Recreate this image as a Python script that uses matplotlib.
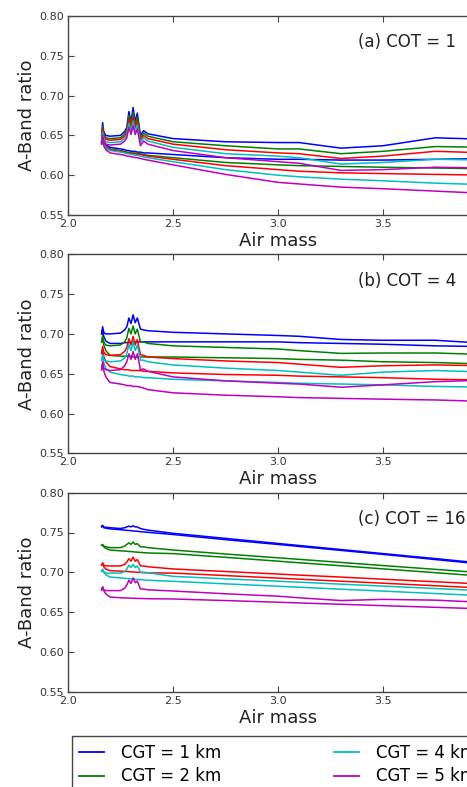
import matplotlib
matplotlib.use('Agg')
import matplotlib.pyplot as plt
from matplotlib.lines import Line2D

# Air mass sample points (shared by every curve)
airmass = [2.16, 2.165, 2.17, 2.18, 2.20, 2.25, 2.27, 2.28, 2.29, 2.30, 2.31, 2.32,
           2.33, 2.345, 2.36, 2.38, 2.5, 2.75, 3.0, 3.1, 3.3, 3.5, 3.75, 4.0]

cgt_labels = ['CGT = 1 km', 'CGT = 2 km', 'CGT = 3 km', 'CGT = 4 km', 'CGT = 5 km']
cgt_colors = ['b', 'g', 'r', 'c', 'm']
panel_titles = ['(a) COT = 1', '(b) COT = 4', '(c) COT = 16']

# (a) COT = 1 -- curves with the spike feature, then the smooth ones (CGT 1..5)
cot1_spiky = [
    [0.650, 0.666, 0.655, 0.650, 0.649, 0.650, 0.655, 0.660, 0.680, 0.667, 0.685, 0.667, 0.678, 0.650, 0.656, 0.652, 0.646, 0.642, 0.641, 0.641, 0.634, 0.637, 0.647, 0.645],
    [0.648, 0.662, 0.652, 0.647, 0.646, 0.647, 0.652, 0.657, 0.675, 0.663, 0.679, 0.663, 0.673, 0.647, 0.653, 0.649, 0.642, 0.637, 0.633, 0.633, 0.627, 0.630, 0.636, 0.635],
    [0.646, 0.658, 0.649, 0.645, 0.644, 0.645, 0.649, 0.654, 0.670, 0.659, 0.674, 0.659, 0.668, 0.644, 0.650, 0.646, 0.639, 0.632, 0.628, 0.627, 0.621, 0.624, 0.630, 0.628],
    [0.644, 0.654, 0.646, 0.642, 0.641, 0.642, 0.646, 0.651, 0.665, 0.655, 0.668, 0.655, 0.663, 0.641, 0.647, 0.643, 0.635, 0.627, 0.624, 0.622, 0.614, 0.616, 0.620, 0.619],
    [0.641, 0.650, 0.643, 0.639, 0.638, 0.639, 0.643, 0.647, 0.660, 0.651, 0.662, 0.651, 0.658, 0.637, 0.643, 0.639, 0.631, 0.622, 0.617, 0.615, 0.606, 0.607, 0.610, 0.609],
]
cot1_smooth = [
    [0.643, 0.650, 0.643, 0.638, 0.635, 0.633, 0.632, 0.631, 0.631, 0.630, 0.630, 0.630, 0.629, 0.629, 0.628, 0.628, 0.626, 0.622, 0.620, 0.620, 0.619, 0.619, 0.620, 0.621],
    [0.642, 0.648, 0.641, 0.636, 0.633, 0.631, 0.630, 0.629, 0.629, 0.628, 0.628, 0.628, 0.627, 0.627, 0.626, 0.625, 0.622, 0.616, 0.613, 0.612, 0.611, 0.610, 0.609, 0.608],
    [0.641, 0.646, 0.640, 0.635, 0.632, 0.630, 0.629, 0.628, 0.628, 0.627, 0.627, 0.627, 0.626, 0.626, 0.625, 0.624, 0.620, 0.612, 0.607, 0.605, 0.603, 0.602, 0.601, 0.600],
    [0.640, 0.644, 0.639, 0.634, 0.631, 0.629, 0.628, 0.627, 0.627, 0.626, 0.626, 0.625, 0.625, 0.624, 0.623, 0.622, 0.617, 0.607, 0.600, 0.598, 0.595, 0.593, 0.590, 0.588],
    [0.639, 0.642, 0.637, 0.632, 0.628, 0.626, 0.625, 0.624, 0.624, 0.623, 0.623, 0.622, 0.622, 0.621, 0.620, 0.619, 0.613, 0.601, 0.591, 0.589, 0.585, 0.583, 0.580, 0.577],
]

# (b) COT = 4
cot4_spiky = [
    [0.700, 0.709, 0.702, 0.700, 0.700, 0.701, 0.705, 0.709, 0.720, 0.713, 0.724, 0.714, 0.720, 0.706, 0.705, 0.704, 0.702, 0.700, 0.698, 0.697, 0.693, 0.692, 0.692, 0.688],
    [0.690, 0.698, 0.690, 0.686, 0.685, 0.686, 0.690, 0.695, 0.707, 0.700, 0.710, 0.700, 0.706, 0.690, 0.690, 0.688, 0.685, 0.683, 0.681, 0.679, 0.6755, 0.676, 0.676, 0.674],
    [0.676, 0.684, 0.677, 0.674, 0.673, 0.674, 0.678, 0.683, 0.694, 0.686, 0.697, 0.686, 0.693, 0.674, 0.673, 0.671, 0.669, 0.666, 0.664, 0.662, 0.658, 0.660, 0.661, 0.660],
    [0.667, 0.674, 0.668, 0.666, 0.665, 0.666, 0.670, 0.675, 0.687, 0.679, 0.690, 0.679, 0.686, 0.667, 0.667, 0.665, 0.661, 0.657, 0.654, 0.652, 0.648, 0.652, 0.654, 0.652],
    [0.655, 0.665, 0.657, 0.655, 0.654, 0.655, 0.660, 0.665, 0.675, 0.668, 0.678, 0.668, 0.675, 0.655, 0.656, 0.653, 0.646, 0.641, 0.638, 0.637, 0.633, 0.636, 0.640, 0.642],
]
cot4_smooth = [
    [0.700, 0.706, 0.697, 0.691, 0.688, 0.688, 0.689, 0.689, 0.689, 0.689, 0.690, 0.690, 0.690, 0.690, 0.690, 0.690, 0.690, 0.690, 0.690, 0.689, 0.688, 0.687, 0.685, 0.684],
    [0.690, 0.696, 0.686, 0.679, 0.673, 0.672, 0.672, 0.672, 0.672, 0.672, 0.671, 0.671, 0.671, 0.671, 0.671, 0.671, 0.671, 0.670, 0.669, 0.668, 0.667, 0.665, 0.664, 0.662],
    [0.675, 0.681, 0.672, 0.665, 0.659, 0.656, 0.655, 0.655, 0.655, 0.654, 0.654, 0.654, 0.654, 0.654, 0.653, 0.653, 0.651, 0.649, 0.648, 0.647, 0.646, 0.645, 0.643, 0.642],
    [0.667, 0.672, 0.664, 0.657, 0.652, 0.649, 0.648, 0.648, 0.647, 0.647, 0.647, 0.646, 0.646, 0.646, 0.645, 0.645, 0.643, 0.641, 0.639, 0.638, 0.637, 0.636, 0.634, 0.633],
    [0.655, 0.663, 0.654, 0.646, 0.639, 0.637, 0.636, 0.635, 0.635, 0.635, 0.634, 0.634, 0.634, 0.633, 0.632, 0.630, 0.626, 0.623, 0.621, 0.620, 0.619, 0.618, 0.617, 0.615],
]

# (c) COT = 16
cot16_spiky = [
    [0.758, 0.759, 0.757, 0.7565, 0.756, 0.755, 0.756, 0.757, 0.758, 0.757, 0.7585, 0.757, 0.757, 0.755, 0.754, 0.753, 0.749, 0.7426, 0.7362, 0.7337, 0.7286, 0.7235, 0.7172, 0.7107],
    [0.734, 0.735, 0.733, 0.732, 0.731, 0.731, 0.733, 0.735, 0.737, 0.735, 0.738, 0.735, 0.736, 0.732, 0.732, 0.731, 0.728, 0.7230, 0.7182, 0.7163, 0.7124, 0.7085, 0.7037, 0.6989],
    [0.709, 0.712, 0.709, 0.708, 0.708, 0.708, 0.710, 0.713, 0.717, 0.714, 0.719, 0.714, 0.716, 0.708, 0.708, 0.707, 0.7042, 0.701, 0.6978, 0.6965, 0.694, 0.6913, 0.6881, 0.6849],
    [0.701, 0.704, 0.701, 0.699, 0.699, 0.699, 0.701, 0.704, 0.709, 0.706, 0.710, 0.706, 0.708, 0.700, 0.700, 0.6995, 0.6949, 0.6918, 0.6888, 0.6876, 0.6851, 0.6827, 0.6796, 0.6766],
    [0.678, 0.682, 0.678, 0.677, 0.677, 0.677, 0.680, 0.684, 0.690, 0.686, 0.693, 0.687, 0.689, 0.679, 0.679, 0.678, 0.6765, 0.673, 0.670, 0.668, 0.6645, 0.666, 0.665, 0.662],
]
cot16_smooth = [
    [0.757, 0.758, 0.756, 0.7555, 0.7545, 0.7535, 0.7530, 0.7527, 0.7525, 0.7522, 0.752, 0.7517, 0.7515, 0.751, 0.7507, 0.7502, 0.7475, 0.741, 0.735, 0.7325, 0.7275, 0.7225, 0.716, 0.7095],
    [0.734, 0.734, 0.732, 0.730, 0.728, 0.727, 0.7267, 0.7265, 0.7262, 0.726, 0.7258, 0.7255, 0.7253, 0.725, 0.7247, 0.7243, 0.7235, 0.7188, 0.714, 0.712, 0.7082, 0.7043, 0.6995, 0.6946],
    [0.709, 0.711, 0.707, 0.704, 0.702, 0.7015, 0.7012, 0.701, 0.7008, 0.7006, 0.7004, 0.7002, 0.700, 0.6998, 0.6996, 0.6993, 0.699, 0.6959, 0.6927, 0.6914, 0.6888, 0.6863, 0.6831, 0.6799],
    [0.701, 0.703, 0.700, 0.697, 0.694, 0.693, 0.6925, 0.6922, 0.692, 0.6917, 0.6915, 0.6912, 0.691, 0.6907, 0.6904, 0.690, 0.6887, 0.6855, 0.6825, 0.6813, 0.6788, 0.6764, 0.6733, 0.6703],
    [0.678, 0.681, 0.677, 0.673, 0.669, 0.668, 0.6678, 0.6677, 0.6676, 0.6675, 0.6674, 0.6673, 0.6672, 0.6671, 0.667, 0.6668, 0.6665, 0.6645, 0.6624, 0.6615, 0.6598, 0.6581, 0.656, 0.6539],
]

panels = [(cot1_spiky, cot1_smooth), (cot4_spiky, cot4_smooth), (cot16_spiky, cot16_smooth)]

W, H = 467, 787
fig = plt.figure(figsize=(W / 100, H / 100), dpi=100)

# axes boxes in pixels: (left, top, bottom); right edge runs past the crop
ax_boxes = [(68, 16, 215), (68, 254.3, 453.3), (68, 492.7, 691.7)]
ax_width_px = 420

edge = '#444444'
for (spiky, smooth), title, (l, t, b) in zip(panels, panel_titles, ax_boxes):
    ax = fig.add_axes([l / W, 1 - b / H, ax_width_px / W, (b - t) / H])
    for col, ys_hi, ys_lo in zip(cgt_colors, spiky, smooth):
        ax.plot(airmass, ys_hi, color=col, lw=1.1)
        ax.plot(airmass, ys_lo, color=col, lw=1.1)
    ax.set_xlim(2.0, 4.0)
    ax.set_ylim(0.55, 0.80)
    # the 4.0 tick sits past the right edge of the crop
    ax.set_xticks([2.0, 2.5, 3.0, 3.5])
    ax.set_yticks([0.55, 0.60, 0.65, 0.70, 0.75, 0.80])
    ax.xaxis.set_major_formatter(matplotlib.ticker.FormatStrFormatter('%.1f'))
    ax.yaxis.set_major_formatter(matplotlib.ticker.FormatStrFormatter('%.2f'))
    ax.tick_params(direction='in', top=True, right=True, labelsize=8,
                   labelcolor='#333333', color=edge, length=4, pad=3)
    for s in ax.spines.values():
        s.set_color(edge)
        s.set_linewidth(1.0)
    ax.set_xlabel('Air mass', fontsize=13, labelpad=2, color='#222222')
    ax.set_ylabel('A-Band ratio', fontsize=13, labelpad=2, color='#222222')
    ax.text(0.69, 0.868, title, transform=ax.transAxes, fontsize=12,
            ha='left', va='center', color='#222222')

handles = [Line2D([], [], color=c, lw=1.3) for c in cgt_colors]
fig.legend(handles, cgt_labels, ncol=2, loc='upper left',
           bbox_to_anchor=(71.7 / W, 1 - 736 / H), borderaxespad=0,
           fontsize=12, handlelength=1.5, handletextpad=1.0,
           columnspacing=6.8, labelspacing=0.35, borderpad=0.45,
           fancybox=False, edgecolor=edge, framealpha=1)

fig.savefig('out.png', dpi=100)
